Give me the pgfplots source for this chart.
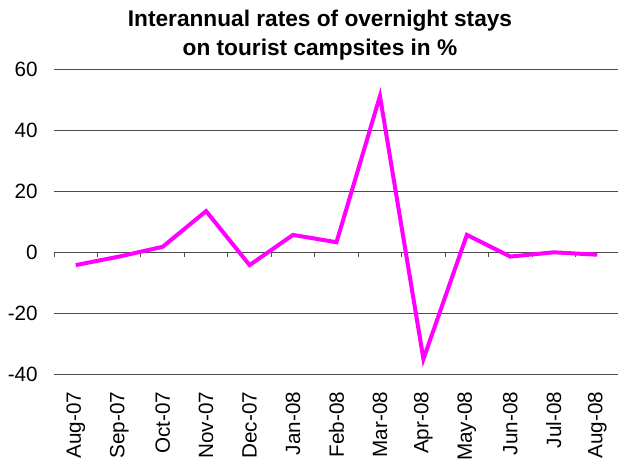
\documentclass[border=0pt]{standalone}
\usepackage{pgfplots}
\pgfplotsset{compat=1.18}
\usepackage{fontspec}
\setmainfont{Liberation Sans}
\definecolor{mag}{RGB}{255,0,255}
\begin{document}
\begin{tikzpicture}
\useasboundingbox (0,0) rectangle (463.5pt,349.5pt);
\node[font=\fontsize{17}{20}\selectfont\bfseries, anchor=base, inner sep=0pt] at (240pt,329.25pt) {Interannual rates of overnight stays};
\node[font=\fontsize{17}{20}\selectfont\bfseries, anchor=base, inner sep=0pt] at (240pt,307.5pt) {on tourist campsites in \%};
\begin{axis}[
  at={(40.5pt,68.775pt)}, anchor=south west,
  scale only axis, width=423.75pt, height=228.75pt,
  xmin=-0.5, xmax=12.5, ymin=-40, ymax=60,
  ytick={-40,-20,0,20,40,60},
  xtick={0,...,12},
  xticklabels={Aug-07,Sep-07,Oct-07,Nov-07,Dec-07,Jan-08,Feb-08,Mar-08,Apr-08,May-08,Jun-08,Jul-08,Aug-08},
  axis line style={draw=none},
  major tick length=0pt,
  ymajorgrids, grid style={black!70, line width=0.75pt},
  tick label style={font=\fontsize{15.5}{18}\selectfont},
  xticklabel style={rotate=90, anchor=east, inner sep=0pt},
  xticklabel shift=13pt,
  yticklabel style={inner sep=0pt}, yticklabel shift=12pt,
  /pgf/number format/assume math mode=true,
  clip=false,
]
\draw[black!70, line width=0.75pt] (axis cs:-0.5,0) -- (axis cs:12.5,0);
\pgfplotsinvokeforeach{-0.5,0.5,...,12.5}{\draw[black!70, line width=0.75pt] (axis cs:#1,0) -- ++(0pt,-3.75pt);}
\addplot[mag, line width=3pt, mark=none] coordinates {
(0,-4.2) (1,-1.4) (2,1.8) (3,13.5) (4,-4.2) (5,5.7) (6,3.3) (7,51.2) (8,-35) (9,5.7) (10,-1.4) (11,0) (12,-0.8)};
\end{axis}
\end{tikzpicture}
\end{document}
